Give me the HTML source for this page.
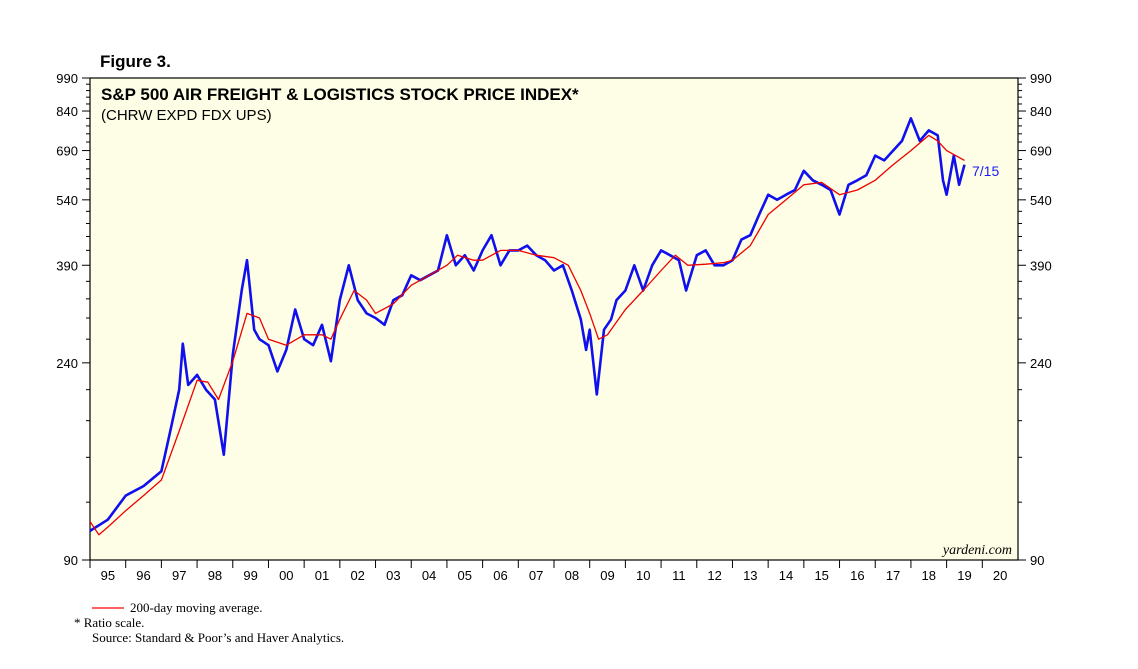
<!DOCTYPE html>
<html><head><meta charset="utf-8"><style>
body{margin:0;background:#fff;width:1138px;height:664px;overflow:hidden;font-family:"Liberation Sans",sans-serif}
svg text{font-family:"Liberation Sans",sans-serif}
</style></head><body>
<svg id="c" width="1138" height="664">
<text x="100" y="67" font-size="17" font-weight="bold">Figure 3.</text>
<rect x="90" y="78" width="928" height="482" fill="#fefee6" stroke="#000" stroke-width="1.2"/>
<text x="101" y="100" font-size="17" font-weight="bold">S&amp;P 500 AIR FREIGHT &amp; LOGISTICS STOCK PRICE INDEX*</text>
<text x="101" y="120" font-size="15">(CHRW EXPD FDX UPS)</text>
<text x="1012" y="554" font-size="14" font-style="italic" text-anchor="end" style="font-family:'Liberation Serif',serif">yardeni.com</text>
<g id="axes"></g><g id="series"></g>
<text x="972" y="176" font-size="14" fill="#1a1aff">7/15</text>
<line x1="92" y1="608" x2="124" y2="608" stroke="red" stroke-width="1.2"/>
<g font-size="13">
<text x="130" y="612" style="font-family:'Liberation Serif',serif">200-day moving average.</text>
<text x="74" y="627" style="font-family:'Liberation Serif',serif">*   Ratio scale.</text>
<text x="92" y="642" style="font-family:'Liberation Serif',serif">Source: Standard &amp; Poor’s and Haver Analytics.</text>
</g>
</svg>
<script>
const yearLabels=["95","96","97","98","99","00","01","02","03","04","05","06","07","08","09","10","11","12","13","14","15","16","17","18","19","20"];
const yTicks=[90,240,390,540,690,840,990];
const priceT=[1995.0,1995.5,1996.0,1996.5,1997.0,1997.25,1997.5,1997.6,1997.75,1998.0,1998.25,1998.5,1998.75,1999.0,1999.25,1999.4,1999.6,1999.75,2000.0,2000.25,2000.5,2000.75,2001.0,2001.25,2001.5,2001.75,2002.0,2002.25,2002.5,2002.75,2003.0,2003.25,2003.5,2003.75,2004.0,2004.25,2004.5,2004.75,2005.0,2005.25,2005.5,2005.75,2006.0,2006.25,2006.5,2006.75,2007.0,2007.25,2007.5,2007.75,2008.0,2008.25,2008.5,2008.75,2008.9,2009.0,2009.2,2009.4,2009.6,2009.75,2010.0,2010.25,2010.5,2010.75,2011.0,2011.25,2011.5,2011.7,2012.0,2012.25,2012.5,2012.75,2013.0,2013.25,2013.5,2013.75,2014.0,2014.25,2014.5,2014.75,2015.0,2015.25,2015.5,2015.75,2016.0,2016.25,2016.5,2016.75,2017.0,2017.25,2017.5,2017.75,2018.0,2018.25,2018.5,2018.75,2018.9,2019.0,2019.2,2019.35,2019.5];
const priceV=[104,110,124,130,140,171,210,264,215,226,210,200,152,250,344,400,283,270,262,230,256,313,270,262,290,242,328,390,328,307,300,290,328,336,371,362,371,380,453,390,410,380,420,453,390,420,420,430,410,400,380,390,344,298,256,283,205,283,298,328,344,390,344,390,420,410,400,344,410,420,390,390,400,443,453,502,554,540,554,567,624,595,582,567,502,582,595,610,673,657,690,724,810,724,763,744,595,554,673,582,643];
const maT=[1995.0,1995.25,1995.5,1996.0,1996.5,1997.0,1997.5,1998.0,1998.3,1998.6,1999.0,1999.4,1999.75,2000.0,2000.5,2001.0,2001.5,2001.75,2002.0,2002.4,2002.75,2003.0,2003.5,2004.0,2004.5,2005.0,2005.3,2005.75,2006.0,2006.5,2007.0,2007.5,2008.0,2008.4,2008.75,2009.0,2009.25,2009.5,2010.0,2010.5,2011.0,2011.4,2011.75,2012.25,2012.75,2013.0,2013.5,2014.0,2014.5,2015.0,2015.5,2016.0,2016.5,2017.0,2017.5,2018.0,2018.5,2018.75,2019.0,2019.5];
const maV=[109,102,106,115,124,134,171,220,218,200,242,307,300,270,262,276,276,270,298,344,328,307,322,353,371,390,410,400,400,420,420,410,405,390,344,307,270,276,313,344,380,410,390,392,395,400,430,502,540,582,589,554,567,595,643,690,744,724,690,657];
const L=90,R=1018,T=78,B=560,YMIN=90,YMAX=990,X0=1995,X1=2021;
const xs=t=>L+(t-X0)/(X1-X0)*(R-L);
const ys=v=>T+Math.log(YMAX/v)/Math.log(YMAX/YMIN)*(B-T);
const NS="http://www.w3.org/2000/svg";
const ax=document.getElementById('axes'),se=document.getElementById('series');
function mk(tag,at,par){const e=document.createElementNS(NS,tag);for(const k in at)e.setAttribute(k,at[k]);par.appendChild(e);return e;}
for(let v=90;v<=990;v+=30){const y=ys(v);const major=yTicks.includes(v);const len=major?8:4;
 const a=mk('line',{x1:L-len,y1:y,x2:L,y2:y,stroke:'#000'},ax);
 
 
 const b=mk('line',{x1:R,y1:y,x2:R+len,y2:y,stroke:'#000'},ax);
 
 }
yTicks.forEach(v=>{const y=ys(v)+5;
 const t1=mk('text',{x:L-12,y:y,'font-size':13,'text-anchor':'end'},ax);t1.textContent=v;
 
 
 const t2=mk('text',{x:R+12,y:y,'font-size':13},ax);t2.textContent=v;
 
 });
yearLabels.forEach((lab,i)=>{const x=xs(X0+i);
 const tk=mk('line',{x1:x,y1:B,x2:x,y2:B+8,stroke:'#000'},ax);
 
 
 const t=mk('text',{x:xs(X0+i+0.5),y:B+20,'font-size':13,'text-anchor':'middle'},ax);t.textContent=lab;
 
 });
function path(T_,V_,col,w,name){const d=T_.map((t,i)=>(i?'L':'M')+xs(t).toFixed(1)+','+ys(V_[i]).toFixed(1)).join('');
 const p=mk('path',{d:d,fill:'none',stroke:col,'stroke-width':w,'stroke-linejoin':'round'},se);
 
 }
path(priceT,priceV,'#1010ee',2.6,'price-line');
path(maT,maV,'#ee0000',1.3,'moving-average-line');
</script>
</body></html>
